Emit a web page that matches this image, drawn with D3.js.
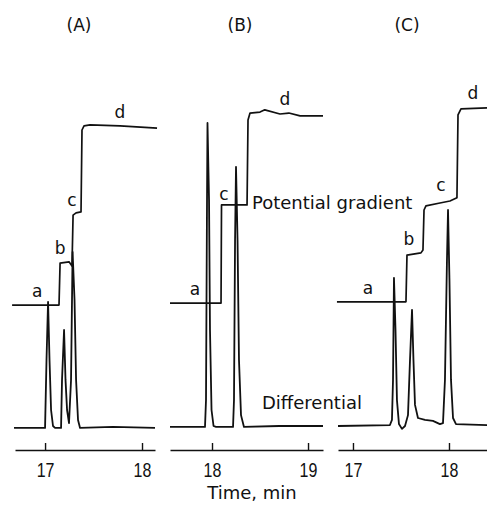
<!DOCTYPE html>
<html>
<head>
<meta charset="utf-8">
<script src="https://cdn.jsdelivr.net/npm/d3@7"></script>
<style>
  body { margin: 0; background: #fff; }
  svg text { fill: #111; }
</style>
</head>
<body>
<div id="wrapper"></div>
<script>
// Data: time (min), signal (arbitrary units, 0 = differential baseline)
const panelNames = ["(A)", "(B)", "(C)"];
const tickValuesA = [17, 18];
const tickValuesB = [18, 19];
const tickValuesC = [17, 18];

const differentialA = [
  [16.68, -0.6], [16.99, -0.6], [17.0, -0.6], [17.015, 20.6], [17.031, 38.8],
  [17.046, 20.6], [17.062, 5], [17.082, 0], [17.103, -0.6], [17.165, -0.6],
  [17.175, 14.4], [17.196, 30], [17.211, 14.4], [17.227, 5], [17.247, 0.9],
  [17.268, 14.4], [17.284, 54.4], [17.304, 39.4], [17.32, 14.4], [17.34, 1.9],
  [17.361, -0.6], [17.7, -0.3], [18.134, -0.6]
];
const potentialA = [
  [16.66, 37.8], [17.144, 37.8], [17.155, 50.9], [17.247, 51.3], [17.278, 50],
  [17.289, 65.9], [17.32, 66.6], [17.371, 66.9], [17.381, 92.5], [17.402, 93.8],
  [17.464, 94.1], [17.773, 93.8], [18.155, 93.1]
];

const differentialB = [
  [17.5625, -0.3], [17.927, -0.3], [17.9375, 8.1], [17.948, 70.6], [17.953, 94.7],
  [17.969, 70.6], [17.979, 30], [17.995, 5], [18.016, 0], [18.042, -0.3],
  [18.219, -0.3], [18.229, 8.1], [18.24, 58], [18.25, 81], [18.266, 58],
  [18.281, 20.6], [18.302, 3.4], [18.333, -0.3], [18.7, 0], [19.156, 0]
];
const potentialB = [
  [17.5625, 38.4], [18.094, 38.4], [18.099, 69.1], [18.365, 69.1], [18.375, 95.6],
  [18.396, 97.8], [18.5, 98.1], [18.55, 98.8], [18.708, 97.5], [18.8, 97.8],
  [18.917, 96.9], [19.156, 96.9]
];

const differentialC = [
  [16.844, 0], [17.385, 0.3], [17.406, 1.9], [17.417, 14.4], [17.427, 46.3],
  [17.443, 30], [17.458, 8.1], [17.479, 0.6], [17.51, -0.9], [17.542, 0],
  [17.573, 3.4], [17.594, 20.6], [17.615, 36.3], [17.63, 20.6], [17.646, 6.6],
  [17.677, 2.5], [17.75, 1.9], [17.833, 1.6], [17.906, 0.6], [17.9375, 0.9],
  [17.958, 14.4], [17.979, 51.9], [17.99, 67.5], [18.005, 45.6], [18.021, 14.4],
  [18.042, 2.5], [18.073, 0.6], [18.396, 0.3]
];
const potentialC = [
  [16.833, 38.8], [17.552, 38.8], [17.5625, 53.4], [17.708, 54.1], [17.729, 55],
  [17.74, 67.5], [17.76, 68.8], [17.906, 69.7], [18.01, 70.3], [18.083, 71.3],
  [18.094, 97.2], [18.125, 99.1], [18.396, 99.4]
];

// step labels: [letter, time, signal]
const stepLabelsA = [["a", 16.918, 41.9], ["b", 17.155, 55.3], ["c", 17.278, 70.6], ["d", 17.773, 97.8]];
const stepLabelsB = [["a", 17.823, 42.5], ["c", 18.125, 72.2], ["d", 18.76, 101.9]];
const stepLabelsC = [["a", 17.156, 43.1], ["b", 17.583, 58.4], ["c", 17.917, 75], ["d", 18.25, 103.8]];

// Sizing
const width = 487;
const height = 507;

const panels = [
  { name: panelNames[0], domain: [16.69, 18.134], range: [15, 155], titleX: 79, ticks: tickValuesA,
    diff: differentialA, pot: potentialA, labels: stepLabelsA },
  { name: panelNames[1], domain: [17.5625, 19.156], range: [170, 323], titleX: 240, ticks: tickValuesB,
    diff: differentialB, pot: potentialB, labels: stepLabelsB },
  { name: panelNames[2], domain: [16.844, 18.396], range: [338, 487], titleX: 407, ticks: tickValuesC,
    diff: differentialC, pot: potentialC, labels: stepLabelsC },
];

const axisY = 450;

const wrapper = d3
  .select("#wrapper")
  .append("svg")
  .attr("width", width)
  .attr("height", height);

const yScale = d3.scaleLinear().domain([0, 100]).range([426, 106]);

panels.forEach((p) => {
  const xScale = d3.scaleLinear().domain(p.domain).range(p.range);
  const line = d3
    .line()
    .x((d) => xScale(d[0]))
    .y((d) => yScale(d[1]));

  const g = wrapper.append("g");

  g.append("path")
    .attr("d", line(p.diff))
    .attr("fill", "none")
    .attr("stroke", "#111")
    .attr("stroke-width", 1.8)
    .attr("stroke-linejoin", "round");

  g.append("path")
    .attr("d", line(p.pot))
    .attr("fill", "none")
    .attr("stroke", "#111")
    .attr("stroke-width", 1.7)
    .attr("stroke-linejoin", "round");

  g.selectAll(".step")
    .data(p.labels)
    .enter()
    .append("text")
    .attr("class", "step")
    .attr("x", (d) => xScale(d[1]))
    .attr("y", (d) => yScale(d[2]))
    .attr("dy", "0.32em")
    .attr("text-anchor", "middle")
    .style("font-family", "DejaVu Sans")
    .style("font-size", "17px")
    .text((d) => d[0]);

  // axis with upward ticks
  const xAxis = g
    .append("g")
    .attr("transform", `translate(0, ${axisY})`)
    .call(
      d3.axisBottom(xScale)
        .tickValues(p.ticks)
        .tickFormat(d3.format("d"))
        .tickSizeInner(-7)
        .tickSizeOuter(0)
        .tickPadding(13)
    );
  xAxis.select(".domain").attr("stroke", "#111").attr("stroke-width", 1.4);
  xAxis.selectAll(".tick line").attr("stroke", "#111").attr("stroke-width", 1.4);
  xAxis.selectAll(".tick text")
    .attr("fill", "#111")
    .style("font-family", "Liberation Sans")
    .style("font-size", "20px")
    .attr("transform", "scale(0.8,1)");

  wrapper.append("text")
    .attr("x", p.titleX)
    .attr("y", 25)
    .attr("dy", "0.35em")
    .attr("text-anchor", "middle")
    .style("font-family", "DejaVu Sans")
    .style("font-size", "17px")
    .text(p.name);
});

wrapper.append("text")
  .attr("x", 252)
  .attr("y", 203)
  .attr("dy", "0.35em")
  .style("font-family", "DejaVu Sans")
  .style("font-size", "18px")
  .text("Potential gradient");

wrapper.append("text")
  .attr("x", 262)
  .attr("y", 403)
  .attr("dy", "0.35em")
  .style("font-family", "DejaVu Sans")
  .style("font-size", "18px")
  .text("Differential");

wrapper.append("text")
  .attr("x", 252)
  .attr("y", 493)
  .attr("dy", "0.35em")
  .attr("text-anchor", "middle")
  .style("font-family", "DejaVu Sans")
  .style("font-size", "18px")
  .text("Time, min");
</script>
</body>
</html>
